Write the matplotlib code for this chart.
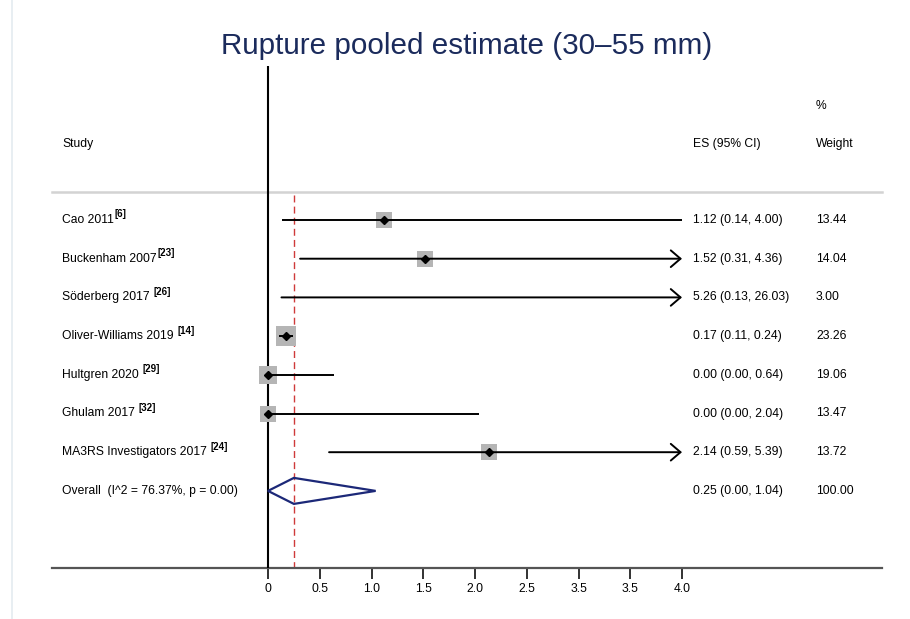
import matplotlib
matplotlib.use("Agg")
import matplotlib.pyplot as plt
from matplotlib.lines import Line2D
from matplotlib.patches import Polygon
import numpy as np

plt.rcParams['font.family'] = ['Liberation Sans', 'DejaVu Sans']

# ---- data ----
study_names = ["Cao 2011", "Buckenham 2007", "Söderberg 2017", "Oliver-Williams 2019",
               "Hultgren 2020", "Ghulam 2017", "MA3RS Investigators 2017"]
study_refs = ["[6]", "[23]", "[26]", "[14]", "[29]", "[32]", "[24]"]
ref_spaced = [False, False, True, True, True, True, True]
es = [1.12, 1.52, 5.26, 0.17, 0.00, 0.00, 2.14]
ci_low = [0.14, 0.31, 0.13, 0.11, 0.00, 0.00, 0.59]
ci_high = [4.00, 4.36, 26.03, 0.24, 0.64, 2.04, 5.39]
weights = [13.44, 14.04, 3.00, 23.26, 19.06, 13.47, 13.72]

overall_es = 0.25
overall_low = 0.00
overall_high = 1.04
overall_weight = 100.00
i2 = 76.37
p_value = 0.00

tick_values = [0, 0.5, 1.0, 1.5, 2.0, 2.5, 3.0, 3.5, 4.0]
tick_labels = ["0", "0.5", "1.0", "1.5", "2.0", "2.5", "3.5", "3.5", "4.0"]
x_max_plot = 4.0

# ---- layout ----
W, H = 910, 619
fig = plt.figure(figsize=(W / 100, H / 100), dpi=100)
ax_left_px, ax_right_px = 52, 882
ax_top_px, ax_bot_px = 66, 568
ax = fig.add_axes([ax_left_px / W, (H - ax_bot_px) / H,
                   (ax_right_px - ax_left_px) / W, (ax_bot_px - ax_top_px) / H])

zero_px, px_per_unit = 268, 103.5
row0_px, row_step = 220, 38.7

def xd(px):
    return (px - zero_px) / px_per_unit

def yd(px):
    return (px - row0_px) / row_step

fs = 8.7
ax.set_xlim(xd(ax_left_px), xd(ax_right_px))
ax.set_ylim(yd(ax_bot_px), yd(ax_top_px))
for s in ['top', 'right', 'left']:
    ax.spines[s].set_visible(False)
ax.spines['bottom'].set_color('#555555')
ax.spines['bottom'].set_linewidth(1.6)
ax.set_yticks([])
ax.set_xticks(tick_values)
ax.set_xticklabels(tick_labels, fontsize=fs)
ax.tick_params(axis='x', length=8, width=1.3, color='#222222', pad=3)

# vertical null line
ax.plot([0, 0], [yd(ax_top_px), yd(ax_bot_px)], color='black', lw=1.5,
        clip_on=False, zorder=3, solid_capstyle='butt')
# header separator
ax.plot([xd(ax_left_px), xd(ax_right_px)], [yd(192), yd(192)], color='#d3d3d3',
        lw=1.8, clip_on=False, zorder=1)
# overall dashed line
ax.plot([overall_es, overall_es], [yd(195), yd(ax_bot_px)], color='#cf3a3a',
        lw=1.0, ls=(0, (5, 3)), zorder=2)

# headers
ax.text(xd(62), yd(144), "Study", fontsize=fs, va='center', ha='left')
ax.text(xd(693), yd(144), "ES (95% CI)", fontsize=fs, va='center', ha='left')
ax.text(xd(816), yd(144), "Weight", fontsize=fs, va='center', ha='left')
ax.text(xd(816), yd(106), "%", fontsize=fs, va='center', ha='left')

# studies
k_px = 4.2
for i, name in enumerate(study_names):
    y = i
    t = ax.text(xd(62), y, name, fontsize=fs, va='center', ha='left')
    ax.annotate(study_refs[i], xy=(1, 0.55), xycoords=t,
                xytext=(2.6 if ref_spaced[i] else 0.6, 0), textcoords='offset points',
                fontsize=7, fontweight='bold', va='bottom', ha='left')
    ax.text(xd(693), y, f"{es[i]:.2f} ({ci_low[i]:.2f}, {ci_high[i]:.2f})",
            fontsize=fs, va='center', ha='left')
    ax.text(xd(816), y, f"{weights[i]:.2f}", fontsize=fs, va='center', ha='left')
    if es[i] <= x_max_plot:
        side_pt = k_px * np.sqrt(weights[i]) * 0.72
        ax.plot(es[i], y, marker='s', ms=side_pt, color='#b5b5b5', mew=0,
                zorder=4, clip_on=False)
    hi = min(ci_high[i], x_max_plot)
    if ci_high[i] > x_max_plot:
        ax.annotate('', xy=(x_max_plot, y), xytext=(ci_low[i], y),
                    arrowprops=dict(arrowstyle='->,head_length=0.7,head_width=0.6',
                                    lw=1.4, color='black', shrinkA=0, shrinkB=0),
                    zorder=5)
    else:
        ax.plot([ci_low[i], hi], [y, y], color='black', lw=1.4, zorder=5,
                solid_capstyle='butt')
    if es[i] <= x_max_plot:
        ax.plot(es[i], y, marker='D', ms=4.5, color='black', zorder=6,
                clip_on=False)

# overall
yo = len(study_names)
ax.text(xd(62), yo, f"Overall  (I^2 = {i2:.2f}%, p = {p_value:.2f})",
        fontsize=fs, va='center', ha='left')
ax.text(xd(693), yo, f"{overall_es:.2f} ({overall_low:.2f}, {overall_high:.2f})",
        fontsize=fs, va='center', ha='left')
ax.text(xd(816), yo, f"{overall_weight:.2f}", fontsize=fs, va='center', ha='left')
dh = 13 / row_step
diamond = Polygon([[overall_low, yo], [overall_es, yo - dh], [overall_high, yo],
                   [overall_es, yo + dh]], closed=True, fill=False,
                  edgecolor='#1c2878', lw=1.6, zorder=6)
ax.add_patch(diamond)

# title
fig.text(467 / W, 1 - 46 / H, "Rupture pooled estimate (30–55 mm)",
         fontsize=21.3, color='#1b2b5c', ha='center', va='center')

# faint left border
fig.add_artist(Line2D([12 / W, 12 / W], [0, 1], color='#e4ebf0', lw=1.2))

fig.savefig("out.png", dpi=100, facecolor='white')
